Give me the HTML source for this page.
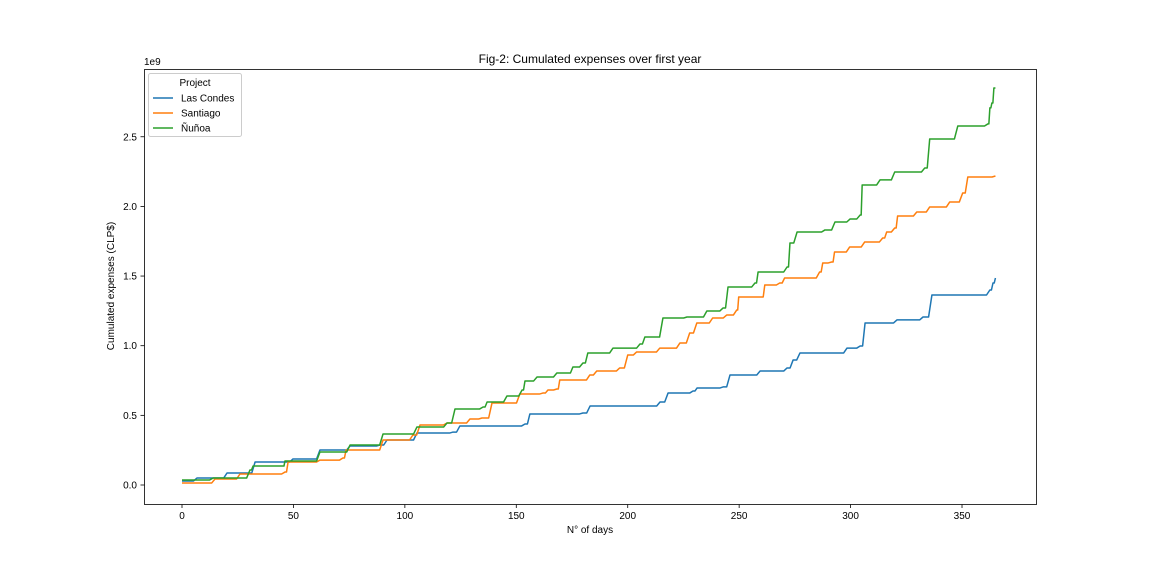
<!DOCTYPE html>
<html><head><meta charset="utf-8"><style>
body{margin:0;background:#fff;}
svg text{font-family:"Liberation Sans","DejaVu Sans",sans-serif;fill:#000;}
</style></head><body>
<svg id="chart" width="1152" height="576" xmlns="http://www.w3.org/2000/svg">
<rect width="1152" height="576" fill="#fff"/>
<text x="590" y="63" font-size="12" text-anchor="middle">Fig-2: Cumulated expenses over first year</text>
<text x="144" y="65" font-size="10">1e9</text>
<text x="590" y="533" font-size="10" text-anchor="middle">N° of days</text>
<text transform="translate(114,286) rotate(-90)" font-size="10" text-anchor="middle">Cumulated expenses (CLP$)</text>
<g id="ticks"></g>
<g id="series"></g>
<rect x="144.5" y="69.5" width="892" height="435" fill="none" stroke="#000" stroke-width="0.8"/>
<g>
<rect x="148.5" y="73.5" width="93" height="63" rx="2" fill="#fff" fill-opacity="0.8" stroke="#ccc"/>
<text x="195" y="86" font-size="10" text-anchor="middle">Project</text>
<line x1="153" y1="98" x2="173" y2="98" stroke="#1f77b4" stroke-width="1.5"/>
<text x="181" y="101.5" font-size="10">Las Condes</text>
<line x1="153" y1="113" x2="173" y2="113" stroke="#ff7f0e" stroke-width="1.5"/>
<text x="181" y="116.5" font-size="10">Santiago</text>
<line x1="153" y1="128" x2="173" y2="128" stroke="#2ca02c" stroke-width="1.5"/>
<text x="181" y="131.5" font-size="10">Ñuñoa</text>
</g>
</svg>
<script>
const xTicks=[0,50,100,150,200,250,300,350];
const yTicks=[0,0.5,1.0,1.5,2.0,2.5];
const yTickLabels=["0.0","0.5","1.0","1.5","2.0","2.5"];
const lasCondesDays=[0,6.7,20.2,32.8,49.8,61.9,75.4,88.8,92,105.4,121.6,124.7,153.9,156.1,179.9,183.1,214.5,218.1,229.3,231.1,242.8,245.9,259.4,271.5,274.2,277.3,298.4,304.3,306.5,320.8,332.5,336.5,362.5,363.9,365];
const lasCondesValues=[0.029,0.05,0.086,0.165,0.187,0.251,0.28,0.287,0.323,0.373,0.38,0.424,0.438,0.51,0.517,0.567,0.596,0.66,0.675,0.696,0.704,0.79,0.818,0.84,0.897,0.948,0.983,0.998,1.163,1.185,1.206,1.364,1.4,1.45,1.486];
const santiagoDays=[0,14.8,26.0,46.2,47.6,61.9,72.2,73.6,90.2,103.6,106.8,118.9,129.2,134.6,139.1,151.6,161.9,164.2,168.2,169.5,183.0,186.1,196.4,200.0,204.0,214.4,223.4,227.8,231.0,238.1,244.4,248.9,249.8,260.1,261.5,268.2,270.4,286.1,287.5,291.5,292.8,299.6,306.3,314.4,316.2,319.8,321.1,329.7,335.5,344.5,350.3,352.6,365];
const santiagoValues=[0.014,0.043,0.079,0.093,0.165,0.179,0.194,0.251,0.323,0.359,0.431,0.445,0.474,0.481,0.589,0.653,0.66,0.682,0.689,0.754,0.79,0.818,0.84,0.933,0.955,0.983,1.019,1.091,1.163,1.199,1.22,1.256,1.35,1.35,1.436,1.45,1.486,1.529,1.594,1.601,1.673,1.709,1.744,1.773,1.816,1.845,1.931,1.96,1.996,2.032,2.096,2.211,2.218];
const nunoaDays=[0,13.9,30.5,31.9,45.3,46.2,61.9,75.4,90.2,105.4,118.9,122.5,135.1,136.9,145.8,152.6,153.9,159.3,168.2,173.2,175.4,179.9,182.1,193.4,205.5,207.7,212.2,215.8,226.6,235.5,242.8,245.0,257.1,258.5,271.5,272.8,276.0,288.5,293.0,299.8,304.3,305.2,313.2,319.8,333.3,335.5,348.1,361.6,362.5,363.4,364.3,365];
const nunoaValues=[0.036,0.05,0.108,0.136,0.136,0.172,0.237,0.287,0.366,0.416,0.445,0.546,0.56,0.596,0.639,0.682,0.747,0.775,0.804,0.804,0.847,0.876,0.948,0.983,1.012,1.062,1.062,1.199,1.206,1.249,1.271,1.421,1.45,1.529,1.565,1.737,1.816,1.831,1.888,1.91,1.938,2.154,2.19,2.247,2.276,2.484,2.577,2.592,2.707,2.742,2.85,2.85];

const NS='http://www.w3.org/2000/svg';
const xs=d=>182+d*2.2286;
const ys=v=>485-v*139.3;
const tg=document.getElementById('ticks');
xTicks.forEach(t=>{
  const l=document.createElementNS(NS,'line');
  l.setAttribute('x1',xs(t));l.setAttribute('x2',xs(t));l.setAttribute('y1',504.5);l.setAttribute('y2',508);
  l.setAttribute('stroke','#000');l.setAttribute('stroke-width','0.8');
  
  
  tg.appendChild(l);
  const tx=document.createElementNS(NS,'text');
  tx.setAttribute('x',xs(t));tx.setAttribute('y',519);tx.setAttribute('font-size','10');tx.setAttribute('text-anchor','middle');
  tx.textContent=t;
  
  
  tg.appendChild(tx);
});
yTicks.forEach((t,i)=>{
  const l=document.createElementNS(NS,'line');
  l.setAttribute('x1',140.5);l.setAttribute('x2',144.5);l.setAttribute('y1',ys(t));l.setAttribute('y2',ys(t));
  l.setAttribute('stroke','#000');l.setAttribute('stroke-width','0.8');
  
  
  tg.appendChild(l);
  const tx=document.createElementNS(NS,'text');
  tx.setAttribute('x',137);tx.setAttribute('y',ys(t)+3.5);tx.setAttribute('font-size','10');tx.setAttribute('text-anchor','end');
  tx.textContent=yTickLabels[i];
  
  
  tg.appendChild(tx);
});
const sg=document.getElementById('series');
function draw(days,vals,color,name){
  let d='M'+xs(days[0]).toFixed(2)+','+ys(vals[0]).toFixed(2);
  for(let i=1;i<days.length;i++){
    const gap=days[i]-days[i-1];
    const ramp=Math.min(1.5,gap*0.5);
    d+=' L'+xs(days[i]-ramp).toFixed(2)+','+ys(vals[i-1]).toFixed(2);
    d+=' L'+xs(days[i]).toFixed(2)+','+ys(vals[i]).toFixed(2);
  }
  const p=document.createElementNS(NS,'path');
  p.setAttribute('d',d);p.setAttribute('fill','none');p.setAttribute('stroke',color);
  p.setAttribute('stroke-width','1.5');p.setAttribute('stroke-linejoin','round');
  
  
  sg.appendChild(p);
}
draw(lasCondesDays,lasCondesValues,'#1f77b4','las-condes-line');
draw(santiagoDays,santiagoValues,'#ff7f0e','santiago-line');
draw(nunoaDays,nunoaValues,'#2ca02c','nunoa-line');
</script>
</body></html>
